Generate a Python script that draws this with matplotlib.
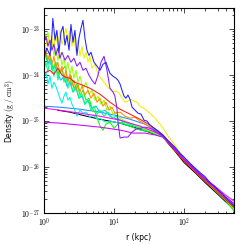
import numpy as np
import matplotlib
matplotlib.use("Agg")
import matplotlib.pyplot as plt
from matplotlib.ticker import FuncFormatter, NullFormatter

plt.rcParams["mathtext.fontset"] = "cm"

# density profiles, rho in units of 1e-25 g/cm^3, r in kpc
UNIT = 1e-25

tail_r = [57.1, 74.3, 100, 144, 199, 277, 385, 518]

blue_r = [1.00, 1.10, 1.22, 1.30, 1.34, 1.44, 1.53, 1.64, 1.75, 1.87, 2.00, 2.13, 2.28, 2.43,
          2.60, 2.77, 2.96, 3.16, 3.38, 3.61, 3.85, 4.11, 4.39, 4.69, 5.18, 5.72, 6.31, 6.96,
          7.68, 8.21, 8.76, 9.68, 10.7, 11.4, 12.2, 13.0, 13.9, 14.8, 15.8, 16.9, 18.1, 19.95,
          22.0, 24.3, 26.8, 29.6, 32.6, 37.3, 42.5, 50.1,
          57.1, 74.3, 87.6, 100, 122, 144, 170, 199, 235, 277, 326, 385, 453, 518]
blue_rho = [23.4, 39, 27, 74, 173, 58, 95, 31.6, 86, 116, 45, 74, 35, 128,
            52, 95, 27, 64, 105, 157, 64, 35, 27, 31.6, 19.2, 15.7, 12.8, 17.3,
            19.2, 14.2, 11.0, 9.5, 8.6, 7.8, 6.4, 4.7, 3.5, 3.16, 3.7, 3.0, 2.01, 1.73,
            1.49, 1.42, 1.05, 1.0, 0.82, 0.70, 0.61, 0.50,
            0.40, 0.27, 0.20, 0.165, 0.12, 0.095, 0.075, 0.062, 0.045, 0.037, 0.029, 0.022, 0.017, 0.014]

purple_r = [1.00, 1.07, 1.14, 1.22, 1.30, 1.39, 1.48, 1.58, 1.69, 1.81, 2.00, 2.20, 2.43, 2.68,
            2.96, 3.27, 3.61, 3.98, 4.39, 4.85, 5.35, 5.91, 6.52, 7.20, 7.94, 8.76, 9.68, 10.3,
            11.0, 11.4, 12.2, 13.9, 15.8, 18.1, 20.6, 23.5, 27.7, 32.6, 38.5, 45.4, 50.1] + tail_r
purple_rho = [52, 70.5, 42.7, 58, 35, 47.2, 27, 39, 23.4, 31.6, 21.2, 27, 19.2, 23.4,
              15.7, 19.2, 12.8, 14.2, 10, 7.8, 6.4, 10, 19.2, 25.9, 12.8, 5.2, 4.3, 3.5,
              1.92, 0.95, 0.43, 0.45, 0.45, 0.58, 0.67, 0.70, 0.74, 0.70, 0.61, 0.52, 0.47,
              0.38, 0.25, 0.15, 0.088, 0.056, 0.036, 0.023, 0.016]

magenta_r = [1.0, 1.69, 3.27, 6.31, 12.2, 23.5, 38.5, 50.1] + tail_r
magenta_rho = [1.92, 1.73, 1.49, 1.28, 1.05, 0.78, 0.58, 0.47,
               0.38, 0.25, 0.15, 0.090, 0.057, 0.038, 0.025, 0.018]

violet_r = [1.0, 1.69, 3.27, 6.31, 12.2, 18.7, 27.7, 38.5, 50.1] + tail_r
violet_rho = [0.95, 0.905, 0.82, 0.74, 0.64, 0.55, 0.55, 0.50, 0.45,
              0.37, 0.24, 0.145, 0.085, 0.054, 0.035, 0.022, 0.015]

black_r = [1.58, 2.35, 3.49, 6.31, 12.2, 23.5, 38.5, 50.1] + tail_r
black_rho = [1.73, 1.57, 1.35, 1.10, 0.905, 0.67, 0.52, 0.45,
             0.35, 0.22, 0.125, 0.075, 0.046, 0.029, 0.018, 0.012]

lblue_r = [1.0, 1.69, 3.27, 6.31, 10.3, 16.9, 27.7, 38.5, 50.1] + tail_r
lblue_rho = [2.12, 2.01, 1.82, 1.57, 1.35, 1.10, 0.86, 0.64, 0.47,
             0.37, 0.24, 0.14, 0.083, 0.052, 0.033, 0.021, 0.0135]

red_r = [1.0, 1.22, 1.39, 1.58, 1.81, 2.06, 2.35, 2.77, 3.27, 4.54, 6.31, 8.76, 12.2, 16.9,
         23.5, 32.6, 42.5, 50.1] + tail_r
red_rho = [11.0, 12.8, 10.5, 14.2, 10, 9.05, 8.6, 7.0, 6.4, 5.2, 3.86, 2.59, 1.82, 1.42,
           1.10, 0.82, 0.61, 0.47,
           0.36, 0.23, 0.135, 0.080, 0.050, 0.032, 0.020, 0.013]

orange_r = [1.0, 1.07, 1.14, 1.22, 1.30, 1.39, 1.48, 1.58, 1.69, 1.81, 1.93, 2.06, 2.20, 2.35,
            2.51, 2.68, 2.87, 3.06, 3.27, 3.49, 3.85, 4.25, 4.69, 5.18, 5.72, 6.31, 6.96, 7.68,
            8.48, 9.36, 10.3, 12.2, 14.4, 16.9, 19.95, 23.5, 27.7, 32.6, 38.5, 50.1] + tail_r
orange_rho = [23.4, 35, 21.2, 31.6, 17.3, 25.9, 14.2, 19.2, 11.6, 15.7, 8.6, 12.8, 7.0, 10.5,
              5.8, 7.8, 4.7, 6.4, 4.3, 5.8, 3.7, 4.7, 3.16, 4.06, 2.59, 3.16, 2.12, 2.59,
              1.73, 2.01, 1.49, 1.57, 1.28, 1.16, 1.22, 1.0, 0.86, 0.74, 0.61, 0.47,
              0.36, 0.235, 0.138, 0.082, 0.051, 0.032, 0.020, 0.013]

yellow_r = [1.0, 1.07, 1.14, 1.22, 1.30, 1.39, 1.48, 1.58, 1.69, 1.81, 1.93, 2.06, 2.20, 2.35,
            2.51, 2.68, 2.87, 3.06, 3.27, 3.49, 3.73, 3.98, 4.25, 4.54, 4.85, 5.35, 5.91, 6.52,
            7.20, 7.94, 8.76, 9.68, 10.7, 11.8, 13.0, 14.4, 15.8, 17.5, 19.3, 21.3, 23.5, 27.7,
            32.6, 38.5, 45.4, 53.5, 59.0, 67.4, 100, 144, 199, 277, 385, 518]
yellow_rho = [27, 45, 64, 35, 70.5, 39, 77.8, 42.7, 95, 47.2, 70.5, 105, 58, 95,
              42.7, 70.5, 31.6, 58, 25.9, 42.7, 23.4, 31.6, 19.2, 25.9, 14.2, 17.3, 10.5, 8.6,
              7.0, 5.8, 4.97, 4.3, 4.49, 4.06, 3.16, 2.59, 2.72, 3.0, 2.72, 2.59, 2.12, 1.82,
              1.49, 1.16, 0.86, 0.61, 0.47, 0.367, 0.155, 0.088, 0.054, 0.034, 0.021, 0.013]

ygreen_r = [1.0, 1.07, 1.14, 1.22, 1.30, 1.39, 1.48, 1.58, 1.69, 1.81, 1.93, 2.06, 2.20, 2.35,
            2.51, 2.68, 2.87, 3.06, 3.27, 3.61, 3.98, 4.39, 4.85, 5.35, 5.91, 6.52, 7.20, 7.94,
            8.76, 9.68, 10.7, 12.2, 14.4, 16.9, 19.95, 23.5, 27.7, 32.6, 38.5, 50.1] + tail_r
ygreen_rho = [105, 64, 86, 42.7, 58, 27, 39, 21.2, 31.6, 16.5, 23.4, 12.8, 19.2, 10.5,
              15.7, 8.6, 12.8, 7.0, 9.5, 5.2, 7.0, 3.86, 4.7, 2.86, 3.5, 2.34, 2.86, 1.73,
              2.12, 1.42, 1.57, 1.16, 1.0, 0.905, 0.82, 0.74, 0.67, 0.61, 0.55, 0.45,
              0.37, 0.24, 0.14, 0.084, 0.053, 0.033, 0.020, 0.012]

green_r = [1.0, 1.10, 1.22, 1.345, 1.48, 1.64, 1.81, 2.0, 2.20, 2.43, 2.68, 2.96, 3.27, 3.61,
           3.98, 4.39, 4.85, 5.35, 5.91, 6.31, 6.96, 7.68, 8.76, 10.0, 11.4, 13.0, 14.8, 16.9,
           19.95, 23.5, 27.7, 32.6, 38.5, 50.1] + tail_r
green_rho = [35, 21.2, 27, 14.2, 19.2, 10.5, 12.8, 15.7, 7.8, 10, 5.2, 6.4, 3.7, 4.7,
             2.86, 3.16, 1.92, 1.57, 1.05, 0.78, 0.64, 0.86, 0.95, 0.70, 0.86, 0.95, 0.82, 0.78,
             0.70, 0.64, 0.61, 0.58, 0.52, 0.45,
             0.36, 0.235, 0.14, 0.082, 0.050, 0.031, 0.019, 0.011]

spring_r = [1.0, 1.07, 1.14, 1.22, 1.30, 1.39, 1.48, 1.58, 1.69, 1.81, 1.93, 2.06, 2.20, 2.35,
            2.60, 2.87, 3.16, 3.49, 3.85, 4.25, 4.69, 5.18, 5.72, 6.31, 7.20, 8.21, 9.36, 10.7,
            12.2, 14.4, 16.9, 19.95, 23.5, 27.7, 32.6, 38.5, 50.1] + tail_r
spring_rho = [12.8, 19.2, 11.6, 23.4, 15.7, 9.5, 17.3, 7.8, 11.6, 14.2, 7.0, 9.5, 5.2, 7.8,
              4.3, 5.8, 3.16, 3.86, 2.34, 2.86, 1.73, 2.12, 1.42, 1.73, 1.28, 1.57, 1.16, 1.28,
              1.05, 0.95, 0.86, 0.78, 0.70, 0.64, 0.61, 0.55, 0.45,
              0.37, 0.24, 0.142, 0.084, 0.053, 0.034, 0.021, 0.012]

cyan_r = [1.0, 1.07, 1.14, 1.22, 1.30, 1.39, 1.48, 1.58, 1.69, 1.81, 1.93, 2.06, 2.20, 2.35,
          2.51, 2.68, 2.96, 3.27, 3.61, 3.98, 4.54, 5.18, 5.72, 6.31, 7.20, 7.94, 9.06, 10.3,
          12.2, 14.4, 16.9, 19.95, 23.5, 27.7, 32.6, 38.5, 50.1] + tail_r
cyan_rho = [8.6, 11.6, 6.4, 9.5, 5.2, 7.0, 5.8, 4.3, 3.16, 2.46, 3.5, 4.3, 2.86, 3.33,
            2.34, 1.92, 1.28, 1.73, 1.49, 1.57, 1.22, 1.35, 1.10, 1.16, 1.0, 0.95, 1.0, 0.95,
            0.905, 0.86, 0.82, 0.78, 0.70, 0.64, 0.61, 0.55, 0.45,
            0.37, 0.24, 0.14, 0.083, 0.052, 0.033, 0.021, 0.013]

sky_r = [1.0, 1.07, 1.14, 1.22, 1.30, 1.44, 1.58, 1.75, 1.93, 2.13, 2.35, 2.60, 2.87, 3.16,
         3.49, 3.85, 4.25, 4.85, 5.53, 6.31, 7.44, 8.76, 10.3, 12.2, 14.4, 16.9, 19.95, 23.5,
         27.7, 32.6, 38.5, 50.1] + tail_r
sky_rho = [21.2, 31.6, 17.3, 23.4, 12.8, 15.7, 10.5, 7.8, 9.5, 5.8, 7.0, 4.3, 5.2, 3.16,
           3.5, 2.34, 2.86, 1.92, 2.12, 1.57, 1.73, 1.28, 1.16, 1.05, 0.95, 0.86, 0.78, 0.70,
           0.64, 0.61, 0.55, 0.45,
           0.37, 0.24, 0.14, 0.083, 0.052, 0.033, 0.021, 0.0135]

x_ticks = [1, 10, 100]
y_ticks = [1e-27, 1e-26, 1e-25, 1e-24, 1e-23]

# drawing order, bottom to top
profiles = [
    (black_r, black_rho, "#000000"),
    (lblue_r, lblue_rho, "#1a8cff"),
    (cyan_r, cyan_rho, "#00f0f0"),
    (sky_r, sky_rho, "#00c0ff"),
    (green_r, green_rho, "#00ff00"),
    (spring_r, spring_rho, "#00ff80"),
    (ygreen_r, ygreen_rho, "#99ff00"),
    (yellow_r, yellow_rho, "#f0f000"),
    (orange_r, orange_rho, "#ff8c00"),
    (red_r, red_rho, "#ff1a1a"),
    (violet_r, violet_rho, "#cc00ff"),
    (magenta_r, magenta_rho, "#ff00ff"),
    (purple_r, purple_rho, "#8c1aff"),
    (blue_r, blue_rho, "#2020ff"),
]


def log_label(val, pos):
    return r"$10^{%d}$" % int(round(np.log10(val)))


fig = plt.figure(figsize=(2.4, 2.44), dpi=100)
ax = fig.add_axes([0.183, 0.127, 0.792, 0.840])

for r, rho, color in profiles:
    ax.plot(r, np.array(rho) * UNIT, color=color, lw=0.75)

ax.set_xscale("log")
ax.set_yscale("log")
ax.set_xlim(1, 515)
ax.set_ylim(1e-27, 2.9e-23)

ax.set_xticks(x_ticks)
ax.set_yticks(y_ticks)
ax.xaxis.set_major_formatter(FuncFormatter(log_label))
ax.yaxis.set_major_formatter(FuncFormatter(log_label))
ax.xaxis.set_minor_formatter(NullFormatter())
ax.yaxis.set_minor_formatter(NullFormatter())
ax.tick_params(which="both", direction="in", top=True, right=True, width=0.5,
               labelsize=5.5, pad=2.5)
ax.tick_params(which="major", length=3.5)
ax.tick_params(which="minor", length=1.8)
for s in ax.spines.values():
    s.set_linewidth(0.8)

ax.set_xlabel("r (kpc)", fontsize=5.5, labelpad=3)
ax.set_ylabel(r"Density $(\mathrm{g\ /\ cm^3})$", fontsize=5.5, labelpad=2)

fig.savefig("out.png", dpi=100)
